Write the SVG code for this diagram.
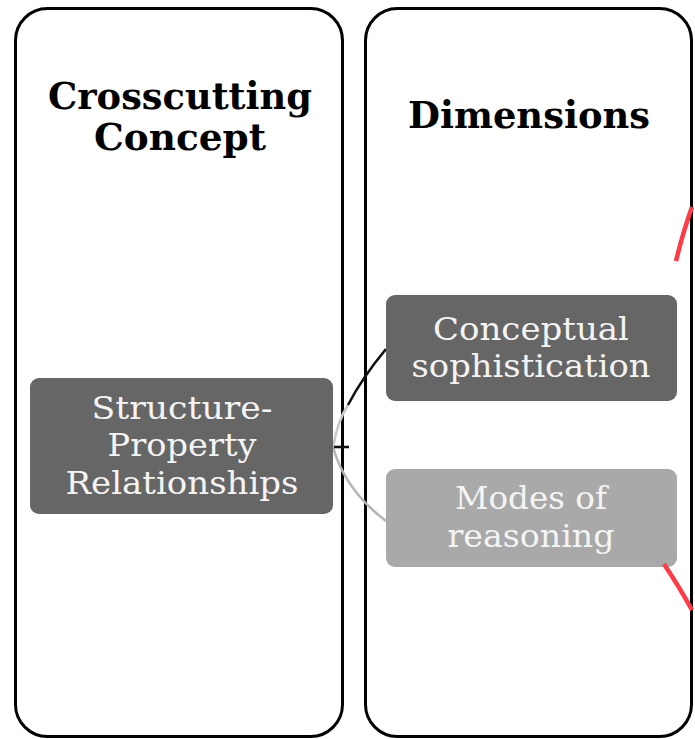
<svg xmlns="http://www.w3.org/2000/svg" width="695" height="739" viewBox="0 0 695 739">
  <style>
    .panel { fill: #ffffff; stroke: #000000; stroke-width: 3; }
    .title { font-family: "DejaVu Serif", "Liberation Serif", serif; font-weight: bold; font-size: 38px; fill: #000000; text-anchor: middle; }
    .box-dark { fill: #666666; }
    .box-light { fill: #a9a9a9; }
    .label { font-family: "DejaVu Serif", "Liberation Serif", serif; font-size: 31px; fill: #f4f4f4; text-anchor: middle; }
    .link { fill: none; stroke-width: 2.6; }
    .mark { fill: none; stroke: #ff3b47; stroke-width: 4.5; stroke-linecap: butt; }
  </style>

  <rect width="695" height="739" fill="#ffffff"/>

  <!-- column frames -->
  <g id="panel-concept">
    <rect class="panel" x="15.5" y="8.5" width="327" height="728" rx="32"/>
    <text class="title" x="180" y="109" textLength="264" lengthAdjust="spacingAndGlyphs">Crosscutting</text>
    <text class="title" x="180" y="150" textLength="172" lengthAdjust="spacingAndGlyphs">Concept</text>
  </g>
  <g id="panel-dimensions">
    <rect class="panel" x="365.5" y="8.5" width="326" height="728" rx="32"/>
    <text class="title" x="529" y="128" textLength="242" lengthAdjust="spacingAndGlyphs">Dimensions</text>
  </g>

  <!-- branches from the concept to its dimensions -->
  <g id="connectors">
    <path class="link" stroke="#c8c8c8" d="M333,447 Q338,420 348,405"/>
    <path class="link" stroke="#111111" d="M348,405 Q362,378 386,349"/>
    <path class="link" stroke="#b5b5b5" d="M333,447 Q345,490 386,521"/>
    <path class="link" stroke="#111111" d="M334,447 H349"/>
  </g>

  <g id="node-structure">
    <rect class="box-dark" x="30" y="378" width="303" height="136" rx="9"/>
    <text class="label" x="182" y="419" textLength="181" lengthAdjust="spacingAndGlyphs">Structure-</text>
    <text class="label" x="182" y="456" textLength="149" lengthAdjust="spacingAndGlyphs">Property</text>
    <text class="label" x="182" y="494" textLength="233" lengthAdjust="spacingAndGlyphs">Relationships</text>
  </g>

  <g id="node-conceptual">
    <rect class="box-dark" x="386" y="295" width="291" height="106" rx="9"/>
    <text class="label" x="531" y="340" textLength="196" lengthAdjust="spacingAndGlyphs">Conceptual</text>
    <text class="label" x="531" y="377" textLength="239" lengthAdjust="spacingAndGlyphs">sophistication</text>
  </g>

  <g id="node-modes">
    <rect class="box-light" x="386" y="469" width="291" height="98" rx="9"/>
    <text class="label" x="531" y="509" textLength="152" lengthAdjust="spacingAndGlyphs">Modes of</text>
    <text class="label" x="531" y="547" textLength="167" lengthAdjust="spacingAndGlyphs">reasoning</text>
  </g>

  <!-- red strokes at the right edge -->
  <g id="marks">
    <path class="mark" d="M676,261 Q683,232 692,207"/>
    <path class="mark" d="M664,564 Q680,588 692,610"/>
  </g>
</svg>
